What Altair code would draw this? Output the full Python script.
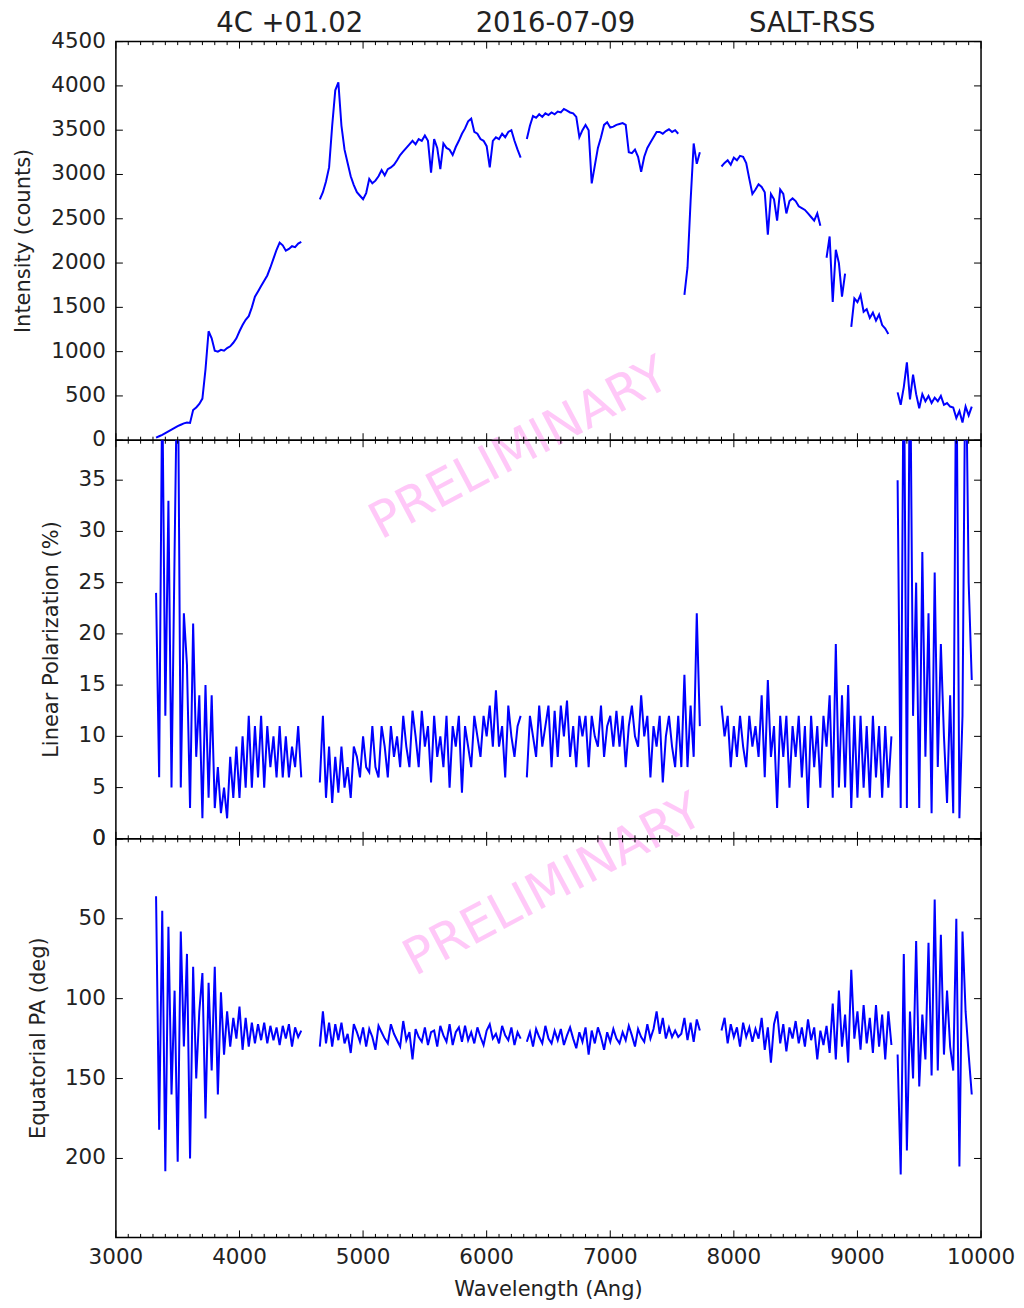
import altair as alt
import pandas as pd

# ---------------- data ----------------
WL_START = 3325   # first wavelength bin (Angstrom)
WL_STEP = 25      # bin width (Angstrom); None marks a gap in the spectrum

intensity = [
    30, 45, 60, 80, 100, 120, 140, 160, 175, 190,                     # 3325-3550
    200, 195, 340, 370, 410, 470, 800, 1230, 1150, 1010,              # 3575-3800
    1000, 1020, 1010, 1040, 1060, 1100, 1150, 1230, 1300, 1360,       # 3825-4050
    1400, 1500, 1620, 1680, 1740, 1800, 1860, 1950, 2050, 2150,       # 4075-4300
    2230, 2200, 2140, 2160, 2190, 2180, 2220, 2240, None, None,       # 4325-4550
    None, None, None, 2720, 2800, 2920, 3080, 3550, 3950, 4040,       # 4575-4800
    3550, 3280, 3130, 2980, 2880, 2800, 2760, 2720, 2790, 2950,       # 4825-5050
    2900, 2930, 2980, 3050, 2990, 3060, 3080, 3110, 3160, 3220,       # 5075-5300
    3260, 3300, 3340, 3380, 3340, 3400, 3380, 3440, 3380, 3020,       # 5325-5550
    3400, 3300, 3060, 3350, 3300, 3280, 3220, 3310, 3380, 3460,       # 5575-5800
    3520, 3600, 3630, 3480, 3460, 3400, 3380, 3320, 3080, 3380,       # 5825-6050
    3420, 3400, 3460, 3420, 3480, 3500, 3380, 3280, 3190, None,       # 6075-6300
    3400, 3550, 3660, 3640, 3680, 3650, 3690, 3670, 3700, 3680,       # 6325-6550
    3710, 3700, 3740, 3720, 3700, 3690, 3650, 3420, 3500, 3560,       # 6575-6800
    3500, 2900, 3100, 3300, 3420, 3560, 3590, 3530, 3540, 3560,       # 6825-7050
    3570, 3580, 3560, 3250, 3240, 3280, 3200, 3030, 3200, 3300,       # 7075-7300
    3360, 3420, 3480, 3480, 3460, 3490, 3510, 3480, 3500, 3460,       # 7325-7550
    None, 1640, 1950, 2700, 3350, 3120, 3250, None, None, None,       # 7575-7800
    None, None, None, 3090, 3130, 3160, 3110, 3190, 3160, 3210,       # 7825-8050
    3200, 3130, 2950, 2780, 2830, 2890, 2860, 2800, 2320, 2780,       # 8075-8300
    2720, 2480, 2830, 2780, 2560, 2700, 2730, 2700, 2640, 2620,       # 8325-8550
    2600, 2560, 2520, 2480, 2560, 2420, None, 2060, 2300, 1560,       # 8575-8800
    2150, 2000, 1620, 1880, None, 1280, 1600, 1560, 1640, 1450,       # 8825-9050
    1480, 1380, 1440, 1350, 1420, 1300, 1260, 1200, None, None,       # 9075-9300
    540, 400, 600, 880, 460, 740, 520, 360, 520, 440,                 # 9325-9550
    500, 420, 480, 440, 500, 400, 420, 380, 370, 250,                 # 9575-9800
    330, 200, 380, 280, 380,                                          # 9825-9925
]

lin_pol = [
    24, 6, 45, 12, 33, 5, 28, 50, 5, 22,                              # 3325-3550
    17, 3, 21, 8, 14, 2, 15, 4, 14, 3,                                # 3575-3800
    7, 2.5, 5, 2, 8, 4, 9, 4, 10, 5,                                  # 3825-4050
    12, 5, 11, 6, 12, 5, 11, 7, 10, 6,                                # 4075-4300
    11, 6, 10, 6, 9, 7, 11, 6, None, None,                            # 4325-4550
    None, None, None, 5.5, 12, 4, 9, 3.5, 8, 4.5,                     # 4575-4800
    9, 5, 7, 4, 9, 8, 6, 10, 7, 6.5,                                  # 4825-5050
    11, 7, 6, 11, 9, 6, 11, 8, 10, 7,                                 # 5075-5300
    12, 9, 7, 12.5, 10, 7, 12.5, 9, 11, 5.5,                          # 5325-5550
    12, 8, 10, 7, 12, 5, 11, 9, 12, 4.5,                              # 5575-5800
    11, 9, 7, 12, 10, 8, 12, 10, 13, 9,                               # 5825-6050
    14.5, 9, 11, 6, 13, 10, 8, 11, 12, None,                          # 6075-6300
    6, 12, 10, 8, 13, 9, 11, 13, 7, 12.5,                             # 6325-6550
    8, 13, 10, 13.5, 8, 11, 7, 12, 10, 12,                            # 6575-6800
    7, 12, 10, 9, 13, 8, 11, 12, 9, 12.5,                             # 6825-7050
    9, 12, 7, 11, 13, 10, 9, 14, 10, 12,                              # 7075-7300
    6, 11, 9, 12, 5.5, 10, 12, 9, 7, 12,                              # 7325-7550
    7, 16, 7, 13, 8, 22, 11, None, None, None,                        # 7575-7800
    None, None, None, 13, 10, 12, 7, 11, 8, 12,                       # 7825-8050
    9, 7, 12, 9, 11, 8, 14, 6, 15.5, 8,                               # 8075-8300
    11, 3, 12, 8, 12, 5, 11, 8, 12, 6,                                # 8325-8550
    11, 3, 12, 7, 11, 5, 12, 9, 14, 4,                                # 8575-8800
    19, 5, 14, 5, 15, 3, 12, 4, 12, 5,                                # 8825-9050
    11, 4, 12, 6, 11, 4, 11, 5, 10, None,                             # 9075-9300
    35, 3, 50, 3, 50, 12, 25, 3, 28, 8,                               # 9325-9550
    22, 2.5, 26, 7, 19, 10, 3.5, 14, 2.5, 50,                         # 9575-9800
    2, 12, 50, 25, 15.5,                                              # 9825-9925
]

eq_pa = [
    36, 182, 45, 208, 55, 160, 95, 202, 58, 130,                      # 3325-3550
    72, 200, 80, 150, 108, 84, 175, 90, 145, 80,                      # 3575-3800
    160, 96, 135, 108, 130, 112, 125, 105, 132, 112,                  # 3825-4050
    130, 115, 128, 116, 126, 115, 128, 117, 126, 118,                 # 4075-4300
    129, 117, 125, 116, 130, 118, 124, 120, None, None,               # 4325-4550
    None, None, None, 130, 108, 128, 115, 130, 116, 126,              # 4575-4800
    115, 128, 122, 134, 116, 121, 127, 118, 130, 119,                 # 4825-5050
    124, 132, 117, 121, 125, 128, 116, 122, 126, 130,                 # 5075-5300
    114, 126, 121, 138, 119, 124, 127, 118, 129, 121,                 # 5325-5550
    120, 130, 117, 123, 127, 116, 129, 121, 118, 127,                 # 5575-5800
    117, 126, 121, 128, 118, 124, 129, 120, 116, 125,                 # 5825-6050
    122, 128, 117, 123, 126, 118, 129, 121, 125, None,                # 6075-6300
    127, 121, 130, 119, 124, 128, 117, 125, 128, 120,                 # 6325-6550
    126, 119, 129, 123, 118, 125, 131, 121, 127, 118,                 # 6575-6800
    135, 120, 128, 118, 124, 132, 121, 127, 119, 125,                 # 6825-7050
    128, 121, 126, 117, 123, 130, 119, 124, 127, 116,                 # 7075-7300
    125, 119, 108, 122, 112, 125, 118, 124, 120, 124,                 # 7325-7550
    122, 112, 126, 115, 127, 113, 120, None, None, None,              # 7575-7800
    None, None, None, 120, 112, 128, 116, 124, 118, 130,              # 7825-8050
    115, 124, 118, 127, 119, 125, 112, 132, 118, 140,                 # 8075-8300
    116, 108, 128, 116, 133, 118, 125, 114, 128, 118,                 # 8325-8550
    130, 113, 126, 118, 138, 120, 129, 117, 134, 103,                 # 8575-8800
    138, 95, 130, 110, 140, 82, 125, 108, 132, 104,                   # 8825-9050
    128, 112, 134, 104, 130, 110, 138, 108, 129, None,                # 9075-9300
    135, 210, 72, 195, 108, 150, 64, 155, 110, 138,                   # 9325-9550
    65, 148, 38, 145, 60, 135, 95, 130, 145, 50,                      # 9575-9800
    205, 58, 108, 135, 160,                                           # 9825-9925
]

header = ["4C +01.02", "2016-07-09", "SALT-RSS"]
watermark = "PRELIMINARY"
x_title = "Wavelength (Ang)"
y_titles = ["Intensity (counts)", "Linear Polarization (%)", "Equatorial PA (deg)"]
x_major = [3000, 4000, 5000, 6000, 7000, 8000, 9000, 10000]
x_minor = [w for w in range(3000, 10001, 100) if w % 1000 != 0]
i_ticks = [0, 500, 1000, 1500, 2000, 2500, 3000, 3500, 4000, 4500]
p_ticks = [0, 5, 10, 15, 20, 25, 30, 35]
pa_ticks = [0, 50, 100, 150, 200]

# ---------------- styling ----------------
W, H = 866, 399
FONT = "DejaVu Sans"
TXT = "#222222"
BLUE = "#0000ff"
PINK = "#ffc8f8"
FS = 21.5


def to_frame(values):
    rows, seg = [], 0
    for i, v in enumerate(values):
        if v is None:
            seg += 1
            continue
        rows.append({"wl": WL_START + WL_STEP * i, "v": v, "seg": seg})
    return pd.DataFrame(rows)


xscale = alt.Scale(domain=[3000, 10000], nice=False, zero=False)
one = pd.DataFrame({"k": [0]})


def label(text, x, y, size, color=TXT, angle=0, baseline="middle"):
    return alt.Chart(one).mark_text(
        font=FONT, fontSize=size, color=color, angle=angle,
        align="center", baseline=baseline,
    ).encode(x=alt.value(x), y=alt.value(y), text=alt.value(text))


def tick_layers(yscale, yticks):
    layers = []
    ydf = pd.DataFrame({"v": yticks, "lab": [str(t) for t in yticks]})
    for x0, x1 in [(0, 7), (W - 7, W)]:
        layers.append(
            alt.Chart(ydf).mark_rule(color="black", strokeWidth=1).encode(
                y=alt.Y("v:Q", scale=yscale, axis=None),
                x=alt.value(x0), x2=alt.value(x1)))
    # y tick labels
    layers.append(
        alt.Chart(ydf).mark_text(font=FONT, fontSize=FS, color=TXT, align="right",
                                 baseline="middle").encode(
            y=alt.Y("v:Q", scale=yscale, axis=None),
            x=alt.value(-10), text="lab:N"))
    for vals, L in [(x_major, 7), (x_minor, 3.5)]:
        xdf = pd.DataFrame({"wl": vals})
        for y0, y1 in [(0, L), (H - L, H)]:
            layers.append(
                alt.Chart(xdf).mark_rule(color="black", strokeWidth=1).encode(
                    x=alt.X("wl:Q", scale=xscale, axis=None),
                    y=alt.value(y0), y2=alt.value(y1)))
    return layers


def x_labels():
    xdf = pd.DataFrame({"wl": x_major, "lab": [str(t) for t in x_major]})
    return alt.Chart(xdf).mark_text(font=FONT, fontSize=FS, color=TXT, align="center",
                                    baseline="top").encode(
        x=alt.X("wl:Q", scale=xscale, axis=None), y=alt.value(H + 10), text="lab:N")


def panel(values, ydomain, yticks, ytitle, title_x, reverse=False, before=(), after=()):
    yscale = alt.Scale(domain=ydomain, nice=False, zero=False, reverse=reverse)
    line = alt.Chart(to_frame(values)).mark_line(
        color=BLUE, strokeWidth=2.0, clip=True
    ).encode(
        x=alt.X("wl:Q", scale=xscale, axis=None),
        y=alt.Y("v:Q", scale=yscale, axis=None),
        detail="seg:N",
    )
    ytl = label(ytitle, title_x, H / 2, 21, angle=270)
    return alt.layer(*before, line, *tick_layers(yscale, yticks), ytl, *after).properties(
        width=W, height=H)


top = panel(
    intensity, [0, 4500], i_ticks, y_titles[0], -92,
    before=[label(watermark, 404, 408, 50, PINK, 332)],
    after=[label(header[0], 174, -18, 27.5), label(header[1], 440, -18, 27.5),
           label(header[2], 697, -18, 27.5)],
)
mid = panel(
    lin_pol, [0, 38.9], p_ticks, y_titles[1], -64,
    before=[label(watermark, 438, 446, 50, PINK, 332)],
)
bot = panel(
    eq_pa, [0, 249.4], pa_ticks, y_titles[2], -77, reverse=True,
    after=[x_labels(), label(x_title, W / 2, H + 42, 21, baseline="top")],
)

chart = alt.vconcat(top, mid, bot, spacing=0, bounds="flush").properties(
    padding={"top": 0, "left": 4, "right": 0, "bottom": 0}
).configure_view(
    stroke="black", strokeWidth=1.5
)

chart.save("out.html", embed_options={"renderer": "svg", "actions": False})
